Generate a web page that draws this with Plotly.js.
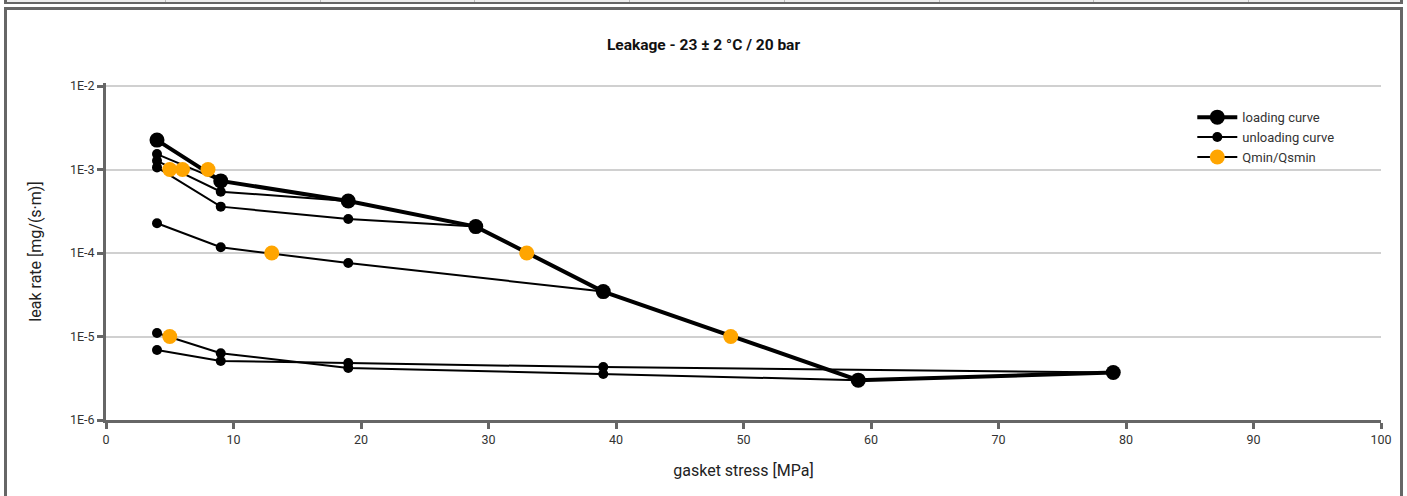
<!DOCTYPE html>
<html>
<head>
<meta charset="utf-8">
<script src="https://cdn.plot.ly/plotly-3.0.1.min.js"></script>
<style>
  html, body { margin:0; padding:0; background:#fff; }
  body { width:1407px; height:496px; overflow:hidden; position:relative; font-family: Roboto, sans-serif; }
  #toprow { position:absolute; left:4px; top:0; width:1393px; height:2px; background:#eeeeee;
            border-left:3px solid #666; border-right:3px solid #666; border-bottom:2px solid #666; }
  .sep { position:absolute; top:0; width:1px; height:2px; background:#bbb; }
  #box { position:absolute; left:4px; top:7px; width:1393px; height:500px;
         border-left:3px solid #666; border-right:3px solid #666; border-top:3px solid #666; }
  #chart { width:1393px; height:486px; }
</style>
</head>
<body>
<div id="toprow"></div>
<div id="box"><div id="chart"></div></div>
<script>
// ---- data ----
const loadingX = [4, 9, 19, 29, 39, 59, 79];
const loadingY = [2.25e-3, 7.3e-4, 4.2e-4, 2.07e-4, 3.45e-5, 3.0e-6, 3.7e-6];

const unload9X  = [9, 4];
const unload9Y  = [7.3e-4, 1.53e-3];
const unload19X = [19, 9, 4];
const unload19Y = [4.2e-4, 5.42e-4, 1.27e-3];
const unload29X = [29, 19, 9, 4];
const unload29Y = [2.07e-4, 2.55e-4, 3.59e-4, 1.06e-3];
const unload39X = [39, 19, 9, 4];
const unload39Y = [3.45e-5, 7.6e-5, 1.17e-4, 2.27e-4];
const unload59X = [59, 39, 19, 9, 4];
const unload59Y = [3.0e-6, 3.56e-6, 4.2e-6, 6.3e-6, 1.1e-5];
const unload79X = [79, 39, 19, 9, 4];
const unload79Y = [3.7e-6, 4.3e-6, 4.8e-6, 5.1e-6, 6.9e-6];

const qminX = [5, 6, 8, 13, 33, 49, 5];
const qminY = [1e-3, 1e-3, 1e-3, 1e-4, 1e-4, 1e-5, 1e-5];

const yTickVals = [1e-6, 1e-5, 1e-4, 1e-3, 1e-2];
const yTickText = ['1E-6', '1E-5', '1E-4', '1E-3', '1E-2'];
const xTickVals = [0, 10, 20, 30, 40, 50, 60, 70, 80, 90, 100];

// top row cell separators
const sepX = [158, 313, 467, 622, 777, 932, 1086, 1241];
const tr = document.getElementById('toprow');
sepX.forEach(function (x) { const d = document.createElement('div'); d.className = 'sep'; d.style.left = x + 'px'; tr.appendChild(d); });

// join unloading curves into one trace separated by gaps
function joinCurves(list) {
  const out = [];
  list.forEach(function (arr, i) { if (i > 0) out.push(null); arr.forEach(function (v) { out.push(v); }); });
  return out;
}
function isolate(arr) {
  const out = [];
  arr.forEach(function (v, i) { if (i > 0) out.push(null); out.push(v); });
  return out;
}

const unloadX = joinCurves([unload9X, unload19X, unload29X, unload39X, unload59X, unload79X]);
const unloadY = joinCurves([unload9Y, unload19Y, unload29Y, unload39Y, unload59Y, unload79Y]);

const traces = [
  { x: loadingX, y: loadingY, name: 'loading curve', type: 'scatter', mode: 'lines+markers',
    line: { color: '#000', width: 4 }, marker: { color: '#000', size: 15 } },
  { x: unloadX, y: unloadY, name: 'unloading curve', type: 'scatter', mode: 'lines+markers',
    connectgaps: false, line: { color: '#000', width: 2 }, marker: { color: '#000', size: 10 } },
  { x: isolate(qminX), y: isolate(qminY), name: 'Qmin/Qsmin', type: 'scatter', mode: 'lines+markers',
    connectgaps: false, line: { color: '#000', width: 2 }, marker: { color: '#FFA500', size: 15 } }
];

const axisFont = { family: 'Roboto, sans-serif', size: 12.5, color: '#333' };

const layout = {
  width: 1393, height: 486,
  paper_bgcolor: '#fff', plot_bgcolor: '#fff',
  margin: { l: 99, r: 19, t: 73, b: 76, pad: 0 },
  font: { family: 'Roboto, sans-serif', size: 12, color: '#333' },
  title: { text: '<b>Leakage - 23 ± 2 °C / 20 bar</b>', x: 0.5, xref: 'container', xanchor: 'center',
           y: 1 - 35 / 486, yref: 'container', yanchor: 'middle',
           font: { family: 'Roboto, sans-serif', size: 15.5, color: '#111' } },
  xaxis: {
    range: [0, 100], tickvals: xTickVals, ticks: 'outside', ticklen: 6, tickwidth: 3, tickcolor: '#666',
    showline: true, linecolor: '#666', linewidth: 3, showgrid: false, zeroline: false,
    tickfont: axisFont,
    title: { text: 'gasket stress [MPa]', standoff: 19, font: { family: 'Roboto, sans-serif', size: 16, color: '#222' } }
  },
  yaxis: {
    type: 'log', range: [-6, -6 + 337 / 83.5], tickvals: yTickVals, ticktext: yTickText,
    ticks: 'outside', ticklen: 6, tickwidth: 3, tickcolor: '#666',
    showline: true, linecolor: '#666', linewidth: 3, showgrid: true, gridcolor: '#d0d0d0', gridwidth: 2,
    zeroline: false, tickfont: axisFont,
    title: { text: 'leak rate [mg/(s·m)]', standoff: 25, font: { family: 'Roboto, sans-serif', size: 16, color: '#222' } }
  },
  showlegend: true,
  legend: { x: 0.852, y: 0.943, xanchor: 'left', yanchor: 'top', bgcolor: 'rgba(0,0,0,0)',
            itemwidth: 40, font: { family: 'Roboto, sans-serif', size: 13, color: '#333' } }
};

Plotly.newPlot('chart', traces, layout, { staticPlot: true, displayModeBar: false });
</script>
</body>
</html>
